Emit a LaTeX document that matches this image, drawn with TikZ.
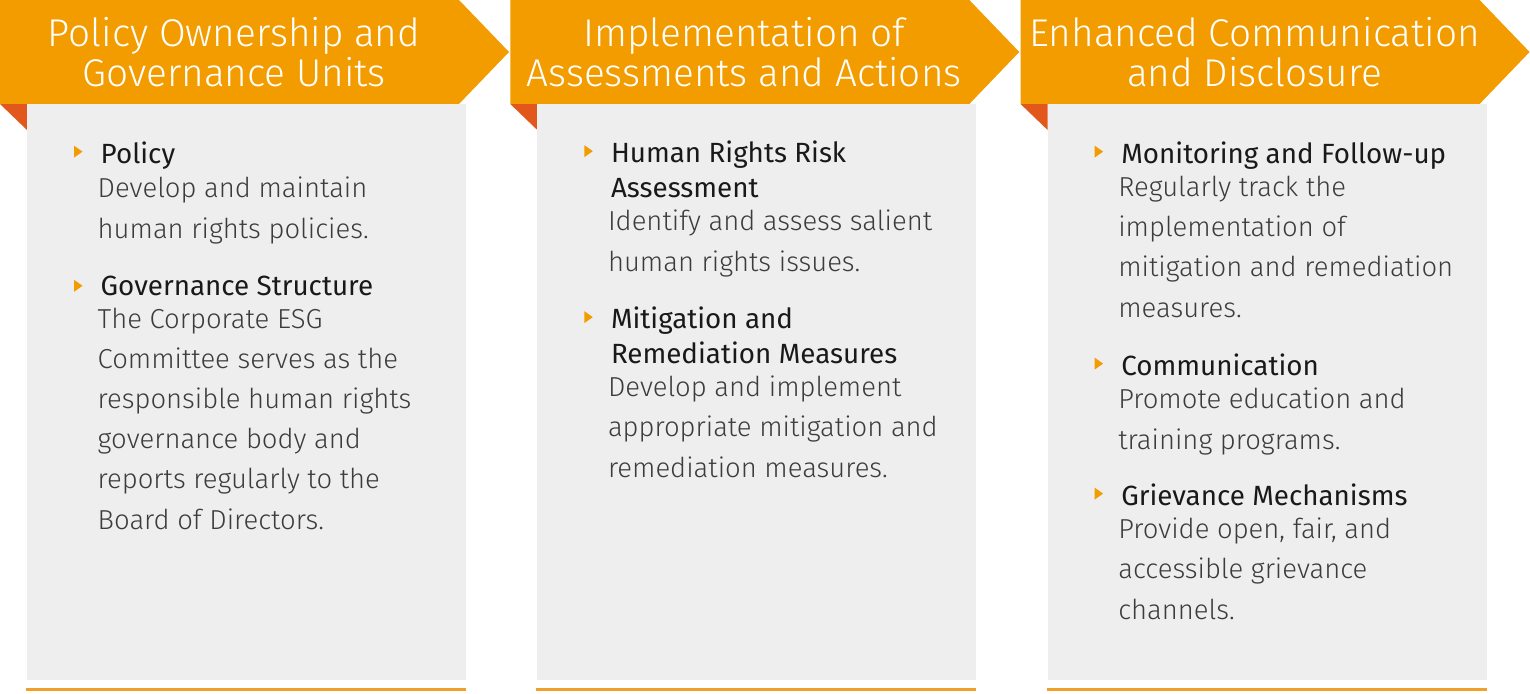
\documentclass[tikz,border=0pt]{standalone}
\usepackage{fontspec}
\IfFontExistsTF{Fira Sans Light}
  {\setmainfont{Fira Sans Light}[BoldFont={Fira Sans}]}
  {\setmainfont{Fira Sans}}
\usetikzlibrary{positioning}
\definecolor{accent}{RGB}{243,156,0}
\definecolor{fold}{RGB}{226,88,28}
\definecolor{panel}{RGB}{238,238,238}
\definecolor{bodytext}{RGB}{60,60,60}
\definecolor{rule}{RGB}{240,160,40}

\tikzset{
  title/.style={anchor=base, inner sep=0pt, align=center, text=white,
    font=\fontsize{11}{11.38}\selectfont},
  head/.style={anchor=base west, inner sep=0pt, align=left, text=black!90,
    font=\bfseries\fontsize{7.9}{9.8}\selectfont},
  body/.style={anchor=base west, inner sep=0pt, align=left, text=bodytext,
    font=\fontsize{7.8}{11.38}\selectfont},
}
% base west is the baseline of the last line
\newcommand\marker[1]{\fill[accent] (#1) ++(-26,5) -- ++(8.5,6) -- ++(-8.5,6) -- cycle;}

\begin{document}
\begin{tikzpicture}[x=0.01cm,y=-0.01cm]

  \useasboundingbox (0,0) rectangle (1530,694);

  % Policy Ownership
  \begin{scope}
    \fill[accent] (0,0) -- (459,0) -- (509,52) -- (459,104) -- (0,104) -- cycle;
    \fill[fold] (0,104) -- (27,104) -- (27,130) -- cycle;
    \fill[panel] (27,104) rectangle (466,680);
    \fill[rule] (26,688) rectangle (466,691);

    \node[title] (t1) at (234,87) {Policy Ownership and\\Governance Units};

    \node[head] (h11) at (100,163) {Policy};
    \node[body] (b11) at (97,238) {Develop and maintain\\human rights policies.};
    \node[head] (h12) at (100,295) {Governance Structure};
    \node[body] (b12) at (97,529) {The Corporate ESG\\Committee serves as the\\responsible human rights\\governance body and\\reports regularly to the\\Board of Directors.};
    \marker{h11.north west}
    \marker{h12.north west}
  \end{scope}

  % Assessments
  \begin{scope}[xshift=5.1cm]
    \fill[accent] (0,0) -- (459,0) -- (509,52) -- (459,104) -- (0,104) -- cycle;
    \fill[fold] (0,104) -- (27,104) -- (27,130) -- cycle;
    \fill[panel] (27,104) rectangle (466,680);
    \fill[rule] (26,688) rectangle (466,691);

    \node[title] (t2) at (234,87) {Implementation of\\Assessments and Actions};

    \node[head] (h21) at (100,197) {Human Rights Risk\\Assessment};
    \node[body] (b21) at (97,271) {Identify and assess salient\\human rights issues.};
    \node[head] (h22) at (100,363) {Mitigation and\\Remediation Measures};
    \node[body] (b22) at (97,477) {Develop and implement\\appropriate mitigation and\\remediation measures.};
    \marker{h21.north west}
    \marker{h22.north west}
  \end{scope}

  % Communication
  \begin{scope}[xshift=10.2cm]
    \fill[accent] (0,0) -- (459,0) -- (509,52) -- (459,104) -- (0,104) -- cycle;
    \fill[fold] (0,104) -- (27,104) -- (27,130) -- cycle;
    \fill[panel] (27,104) rectangle (466,680);
    \fill[rule] (26,688) rectangle (466,691);

    \node[title] (t3) at (234,87) {Enhanced Communication\\and Disclosure};

    \node[head] (h31) at (100,163) {Monitoring and Follow-up};
    \node[body] (b31) at (97,317) {Regularly track the\\implementation of\\mitigation and remediation\\measures.};
    \node[head] (h32) at (100,375) {Communication};
    \node[body] (b32) at (97,449) {Promote education and\\training programs.};
    \node[head] (h33) at (100,505) {Grievance Mechanisms};
    \node[body] (b33) at (97,619) {Provide open, fair, and\\accessible grievance\\channels.};
    \marker{h31.north west}
    \marker{h32.north west}
    \marker{h33.north west}
  \end{scope}

\end{tikzpicture}
\end{document}
